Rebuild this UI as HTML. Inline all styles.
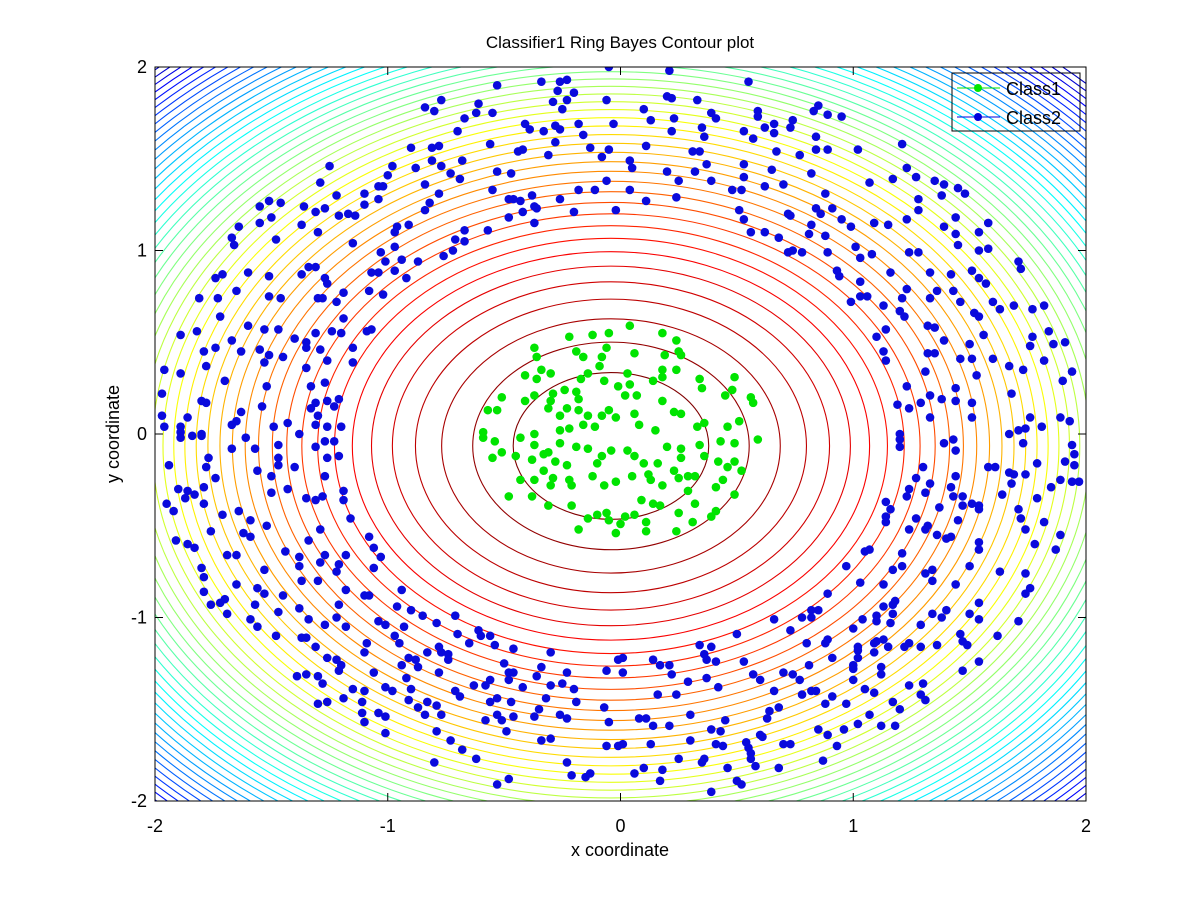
<!DOCTYPE html>
<html><head><meta charset="utf-8"><style>
html,body{margin:0;padding:0;background:#fff;width:1200px;height:900px;overflow:hidden;}
svg{display:block;font-family:"Liberation Sans",Arial,sans-serif;}
</style></head><body>
<svg id="chart" width="1200" height="900" viewBox="0 0 1200 900">
<rect x="0" y="0" width="1200" height="900" fill="#fff"/>
<defs><clipPath id="plotclip"><rect x="155" y="67" width="931" height="734"/></clipPath></defs>
<g id="contours" clip-path="url(#plotclip)"></g>
<g id="c2" clip-path="url(#plotclip)"></g>
<g id="c1" clip-path="url(#plotclip)"></g>
<g id="axes"></g>
<text x="620" y="48" text-anchor="middle" font-size="17">Classifier1 Ring Bayes Contour plot</text>
<text x="620" y="856" text-anchor="middle" font-size="18">x coordinate</text>
<text x="0" y="0" transform="translate(119,434) rotate(-90)" text-anchor="middle" font-size="18">y coordinate</text>
<g>
<rect x="952" y="73" width="128" height="58" fill="none" stroke="#000" stroke-width="1"/>
<g>
<line x1="957" y1="88" x2="1000" y2="88" stroke="#00e600" stroke-width="1"/>
<circle cx="978" cy="88" r="4" fill="#00e600"/>
<text x="1006" y="95" font-size="18">Class1</text></g>
<g>
<line x1="957" y1="117" x2="1000" y2="117" stroke="#0000dd" stroke-width="1"/>
<circle cx="978" cy="117" r="4" fill="#0000dd"/>
<text x="1006" y="124" font-size="18">Class2</text></g>
</g>
</svg>
<script>
const xTicks=[-2,-1,0,1,2];
const yTicks=[-2,-1,0,1,2];
const contourCenter=[-0.041,-0.065];
const contourRadius=[0.42,0.40];
const contourExponent=0.5;
const contourCount=48;
const contourColorSpan=50;
const class1Pts=[[-0.37,0.47],[-0.36,0.42],[-0.22,0.53],[-0.12,0.54],[-0.05,0.55],[-0.06,0.47],[-0.19,0.45],[-0.16,0.42],[-0.08,0.42],[-0.09,0.37],[-0.34,0.35],[-0.30,0.33],[-0.41,0.32],[-0.36,0.30],[-0.14,0.33],[-0.17,0.30],[-0.07,0.29],[-0.01,0.26],[-0.24,0.24],[-0.29,0.22],[-0.19,0.23],[-0.18,0.19],[-0.41,0.18],[-0.37,0.21],[-0.51,0.20],[-0.30,0.18],[-0.23,0.14],[-0.31,0.14],[-0.57,0.13],[-0.53,0.13],[-0.18,0.13],[-0.14,0.10],[-0.08,0.10],[-0.05,0.13],[-0.26,0.10],[-0.02,0.09],[-0.16,0.05],[-0.11,0.04],[-0.22,0.03],[-0.26,0.02],[-0.59,0.01],[-0.37,0.00],
[0.04,0.59],[0.18,0.55],[0.24,0.51],[0.06,0.44],[0.19,0.43],[0.25,0.45],[0.26,0.43],[0.24,0.35],[0.18,0.35],[0.18,0.31],[0.03,0.33],[0.14,0.29],[0.34,0.30],[0.49,0.31],[0.04,0.27],[0.35,0.25],[0.48,0.24],[0.02,0.21],[0.07,0.21],[0.18,0.18],[0.45,0.21],[0.56,0.20],[0.57,0.17],[0.06,0.11],[0.23,0.12],[0.26,0.11],[0.36,0.06],[0.51,0.07],[0.08,0.05],[0.15,0.02],[0.46,0.04],[0.33,0.04],
[-0.59,-0.02],[-0.54,-0.04],[-0.55,-0.13],[-0.51,-0.10],[-0.43,-0.02],[-0.45,-0.12],[-0.37,-0.06],[-0.33,-0.11],[-0.31,-0.10],[-0.26,-0.05],[-0.19,-0.07],[-0.14,-0.08],[-0.08,-0.12],[-0.04,-0.09],[-0.38,-0.14],[-0.28,-0.15],[-0.23,-0.17],[-0.10,-0.16],[-0.33,-0.20],[-0.37,-0.25],[-0.43,-0.25],[-0.29,-0.24],[-0.30,-0.28],[-0.22,-0.25],[-0.21,-0.28],[-0.12,-0.23],[-0.07,-0.28],[-0.02,-0.26],[-0.48,-0.34],[-0.38,-0.34],[-0.31,-0.39],[-0.21,-0.39],[-0.14,-0.46],[-0.10,-0.44],[-0.06,-0.43],[-0.05,-0.47],[-0.18,-0.52],[-0.02,-0.54],
[0.03,-0.09],[0.06,-0.12],[0.10,-0.16],[0.16,-0.16],[0.05,-0.23],[0.12,-0.22],[0.13,-0.25],[0.18,-0.28],[0.23,-0.20],[0.25,-0.24],[0.29,-0.23],[0.32,-0.23],[0.20,-0.07],[0.26,-0.13],[0.26,-0.08],[0.34,-0.06],[0.36,-0.12],[0.42,-0.15],[0.46,-0.18],[0.49,-0.15],[0.43,-0.04],[0.49,-0.05],[0.59,-0.03],[0.52,-0.20],[0.44,-0.25],[0.41,-0.29],[0.29,-0.31],[0.49,-0.33],[0.09,-0.36],[0.14,-0.38],[0.17,-0.39],[0.32,-0.38],[0.41,-0.42],[0.39,-0.45],[0.02,-0.45],[0.06,-0.44],[0.11,-0.48],[0.25,-0.43],[0.31,-0.48],[0.11,-0.53],[0.24,-0.53],[0.00,-0.49]];
const class2Pts=[[-0.05,2.0],[-0.53,1.90],[-0.34,1.92],[-0.26,1.92],[-0.23,1.93],[-0.27,1.87],[-0.20,1.86],[-0.29,1.81],[-0.23,1.82],[-0.25,1.77],[-0.06,1.82],[-0.84,1.78],[-0.80,1.76],[-0.77,1.82],[-0.61,1.80],[-0.62,1.75],[-0.55,1.75],[-0.67,1.72],[-0.41,1.69],[-0.39,1.66],[-0.33,1.65],[-0.28,1.68],[-0.26,1.66],[-0.18,1.69],[-0.16,1.63],[-0.03,1.69],[-0.70,1.65],[-0.56,1.58],[-0.28,1.59],[-0.13,1.56],[-0.05,1.55],[-0.90,1.56],[-0.81,1.56],[-0.78,1.57],[-0.44,1.54],[-0.42,1.55],[-0.31,1.52],[-0.08,1.51],[-1.25,1.46],[-0.98,1.46],[-0.88,1.45],[-0.81,1.49],[-0.77,1.46],[-0.68,1.49],[-0.73,1.42],[-0.69,1.39],[-0.53,1.43],[-0.47,1.42],[-1.29,1.37],[-1.00,1.41],[-1.04,1.35],[-1.02,1.35],[-0.84,1.36],[-0.78,1.31],[-0.55,1.33],[-0.18,1.33],[-0.11,1.33],[-0.06,1.38],[-1.22,1.30],[-1.10,1.31],[-1.10,1.25],[-1.04,1.28],[-0.48,1.28],[-0.46,1.28],[-0.43,1.27],[-0.38,1.30],[-0.26,1.28],[-1.55,1.24],[-1.51,1.27],[-1.46,1.26],[-1.36,1.24],[-1.31,1.21],[-1.27,1.23],[-1.21,1.19],[-1.17,1.20],[-1.14,1.19],[-0.82,1.26],[-0.84,1.22],[-0.48,1.18],[-0.42,1.21],[-0.37,1.24],[-0.36,1.23],[-0.37,1.15],[-0.20,1.21],[-0.02,1.22],[-1.64,1.13],[-1.55,1.15],[-1.50,1.18],[-1.37,1.14],[-1.30,1.10],[-1.67,1.07],[-1.66,1.03],[-1.48,1.06],[-1.15,1.04],[-0.97,1.10],[-0.96,1.13],[-0.91,1.14],[-0.67,1.11],[-0.67,1.05],[-0.71,1.06],[-0.57,1.11],[-1.03,0.99],[-0.97,1.02],[-0.72,1.00],[-0.76,0.97],[-0.94,0.95],[-1.01,0.94],[-0.87,0.94],[-0.97,0.89],[-0.92,0.85],[-1.07,0.88],[-1.04,0.88],[-1.71,0.87],[-1.74,0.85],[-1.60,0.88],[-1.51,0.86],[-1.37,0.87],[-1.34,0.91],[-1.31,0.91],[-1.27,0.85],[-1.26,0.82],[-1.81,0.74],[-1.73,0.74],[-1.65,0.78],[-1.51,0.75],[-1.46,0.74],[-1.30,0.74],[-1.28,0.74],[-1.22,0.72],[-1.19,0.77],[-1.08,0.78],[-1.02,0.76],[-1.72,0.64],[-1.19,0.63],[-1.89,0.54],[-1.82,0.56],[-1.60,0.59],[-1.53,0.57],[-1.47,0.57],[-1.40,0.52],[-1.35,0.50],[-1.31,0.55],[-1.24,0.56],[-1.20,0.55],[-1.09,0.56],[-1.07,0.57],[-1.79,0.45],[-1.74,0.47],[-1.67,0.51],[-1.63,0.45],[-1.55,0.46],[-1.51,0.43],[-1.45,0.42],[-1.35,0.47],[-1.29,0.46],[-1.15,0.47],[-1.53,0.39],[-1.26,0.40],[-1.15,0.39],[-1.96,0.35],[-1.89,0.33],[-1.78,0.37],[-1.35,0.36],[-1.70,0.29],[-1.33,0.26],[-1.27,0.28],[-1.52,0.26],[-1.97,0.22],[-1.80,0.18],[-1.78,0.17],[-1.31,0.17],[-1.26,0.18],[-1.21,0.19],[-1.54,0.15],[-1.23,0.15],[-1.33,0.14],[-1.63,0.12],[-1.97,0.10],[-1.86,0.09],[-1.30,0.10],[-1.65,0.07],[-1.67,0.05],[-1.89,0.04],[-1.96,0.04],[-1.49,0.04],[-1.43,0.06],[-1.31,0.05],[-1.26,0.04],[-1.20,0.04],[-1.89,0.01],[-1.80,0.00],[-1.38,0.00],
[0.21,1.98],[0.55,1.92],[0.20,1.84],[0.22,1.83],[0.33,1.82],[0.10,1.77],[0.13,1.71],[0.23,1.72],[0.22,1.65],[0.35,1.67],[0.36,1.62],[0.39,1.75],[0.41,1.72],[0.59,1.76],[0.59,1.73],[0.62,1.67],[0.66,1.69],[0.66,1.64],[0.53,1.65],[0.57,1.61],[0.74,1.71],[0.73,1.67],[0.83,1.76],[0.85,1.79],[0.89,1.74],[0.95,1.73],[0.84,1.62],[0.84,1.55],[0.89,1.55],[1.02,1.55],[1.21,1.58],[0.11,1.57],[0.31,1.54],[0.34,1.54],[0.67,1.54],[0.77,1.52],[0.04,1.49],[0.05,1.45],[0.20,1.43],[0.25,1.38],[0.32,1.43],[0.37,1.47],[0.39,1.38],[0.53,1.47],[0.53,1.40],[0.65,1.44],[0.82,1.42],[0.04,1.33],[0.11,1.27],[0.24,1.29],[0.48,1.33],[0.52,1.33],[0.62,1.35],[0.70,1.36],[0.88,1.31],[1.07,1.37],[1.17,1.39],[1.23,1.45],[1.27,1.40],[1.35,1.38],[1.39,1.36],[1.38,1.30],[1.45,1.34],[1.48,1.31],[1.28,1.28],[1.28,1.22],[0.51,1.22],[0.53,1.17],[0.72,1.20],[0.73,1.19],[0.84,1.23],[0.86,1.20],[0.91,1.23],[0.95,1.17],[0.99,1.13],[0.82,1.14],[0.81,1.09],[0.88,1.08],[1.09,1.15],[1.15,1.14],[1.23,1.17],[1.39,1.13],[1.44,1.18],[1.44,1.09],[1.54,1.10],[1.58,1.15],[1.45,1.03],[1.54,1.00],[1.58,1.01],[0.56,1.10],[0.62,1.10],[0.68,1.07],[0.72,0.99],[0.74,1.00],[0.78,0.99],[0.89,0.99],[1.01,1.02],[1.03,0.96],[1.08,0.98],[1.24,0.99],[1.28,0.99],[1.71,0.94],[1.72,0.90],[0.93,0.89],[0.94,0.86],[1.16,0.88],[1.33,0.88],[1.42,0.87],[1.51,0.89],[1.54,0.85],[1.57,0.82],[1.03,0.83],[1.23,0.79],[1.36,0.78],[1.43,0.78],[0.99,0.72],[1.03,0.75],[1.06,0.75],[1.21,0.74],[1.33,0.74],[1.46,0.72],[1.60,0.72],[1.63,0.68],[1.69,0.70],[1.77,0.68],[1.82,0.70],[1.13,0.70],[1.20,0.67],[1.22,0.64],[1.52,0.66],[1.54,0.64],[1.14,0.57],[1.10,0.53],[1.32,0.59],[1.35,0.58],[1.39,0.51],[1.50,0.49],[1.56,0.54],[1.77,0.53],[1.84,0.56],[1.86,0.49],[1.91,0.50],[1.76,0.48],[1.13,0.45],[1.14,0.40],[1.32,0.44],[1.35,0.44],[1.46,0.41],[1.51,0.41],[1.60,0.41],[1.67,0.37],[1.73,0.35],[1.82,0.40],[1.31,0.34],[1.53,0.32],[1.90,0.29],[1.94,0.34],[1.23,0.26],[1.44,0.25],[1.68,0.22],[1.19,0.16],[1.24,0.14],[1.29,0.17],[1.33,0.21],[1.38,0.19],[1.44,0.18],[1.51,0.17],[1.33,0.09],[1.51,0.09],[1.76,0.09],[1.89,0.09],[1.93,0.07],[1.81,0.04],[1.71,0.02],[1.67,0.00],[1.74,0.03],[1.20,0.00],
[-1.89,-0.02],[-1.84,-0.01],[-1.80,-0.01],[-1.61,-0.02],[-1.67,-0.08],[-1.57,-0.08],[-1.47,-0.06],[-1.47,-0.13],[-1.47,-0.17],[-1.94,-0.17],[-1.77,-0.13],[-1.78,-0.18],[-1.74,-0.24],[-1.31,-0.07],[-1.27,-0.04],[-1.23,-0.04],[-1.26,-0.13],[-1.21,-0.12],[-1.40,-0.18],[-1.56,-0.20],[-1.50,-0.23],[-1.27,-0.23],[-1.90,-0.30],[-1.86,-0.31],[-1.87,-0.35],[-1.83,-0.33],[-1.79,-0.29],[-1.79,-0.38],[-1.95,-0.38],[-1.92,-0.42],[-1.50,-0.32],[-1.43,-0.30],[-1.35,-0.35],[-1.31,-0.36],[-1.28,-0.34],[-1.19,-0.31],[-1.19,-0.36],[-1.71,-0.44],[-1.64,-0.42],[-1.59,-0.47],[-1.52,-0.50],[-1.16,-0.46],[-1.76,-0.53],[-1.62,-0.54],[-1.59,-0.56],[-1.29,-0.52],[-1.91,-0.58],[-1.86,-0.60],[-1.83,-0.62],[-1.34,-0.58],[-1.08,-0.56],[-1.06,-0.62],[-1.03,-0.67],[-1.44,-0.64],[-1.38,-0.67],[-1.27,-0.66],[-1.18,-0.66],[-1.69,-0.66],[-1.65,-0.66],[-1.80,-0.73],[-1.79,-0.78],[-1.29,-0.70],[-1.21,-0.71],[-1.38,-0.72],[-1.22,-0.75],[-1.53,-0.74],[-1.37,-0.80],[-1.30,-0.80],[-1.06,-0.73],[-1.65,-0.82],[-1.56,-0.84],[-1.53,-0.87],[-1.79,-0.86],[-1.18,-0.85],[-0.94,-0.85],[-1.10,-0.88],[-1.08,-0.88],[-1.45,-0.88],[-1.76,-0.93],[-1.72,-0.92],[-1.70,-0.90],[-1.69,-0.98],[-1.57,-0.93],[-1.47,-0.97],[-1.38,-0.95],[-1.21,-0.93],[-0.96,-0.94],[-0.90,-0.96],[-0.85,-0.99],[-0.71,-0.99],[-1.59,-1.01],[-1.56,-1.05],[-1.34,-1.01],[-1.27,-1.04],[-1.22,-1.00],[-1.18,-1.05],[-1.04,-1.02],[-1.01,-1.04],[-0.93,-1.05],[-0.79,-1.03],[-0.61,-1.07],[-0.60,-1.10],[-0.56,-1.10],[-0.70,-1.09],[-1.48,-1.10],[-1.37,-1.11],[-1.35,-1.11],[-1.31,-1.16],[-1.09,-1.14],[-0.97,-1.10],[-0.95,-1.14],[-0.65,-1.14],[-0.54,-1.15],[-0.46,-1.17],[-0.30,-1.19],[-1.10,-1.19],[-0.83,-1.19],[-0.78,-1.16],[-0.77,-1.19],[-0.74,-1.20],[-1.26,-1.22],[-1.22,-1.23],[-1.20,-1.26],[-0.91,-1.22],[-0.88,-1.23],[-0.94,-1.26],[-0.87,-1.27],[-0.74,-1.23],[-0.50,-1.25],[-0.34,-1.27],[-1.21,-1.29],[-1.06,-1.30],[-0.78,-1.30],[-0.48,-1.30],[-0.46,-1.30],[-0.36,-1.32],[-0.23,-1.30],[-0.06,-1.29],[-0.01,-1.23],[-1.39,-1.32],[-1.35,-1.31],[-1.30,-1.32],[-1.28,-1.36],[-0.92,-1.33],[-0.90,-1.39],[-1.01,-1.38],[-0.98,-1.40],[-0.63,-1.37],[-0.58,-1.37],[-0.56,-1.34],[-0.48,-1.34],[-0.42,-1.38],[-0.30,-1.37],[-0.25,-1.36],[-0.20,-1.39],[-1.15,-1.39],[-1.10,-1.40],[-1.19,-1.44],[-1.11,-1.46],[-1.30,-1.47],[-1.26,-1.46],[-0.91,-1.45],[-0.87,-1.49],[-0.83,-1.46],[-0.79,-1.48],[-0.71,-1.40],[-0.69,-1.43],[-0.56,-1.46],[-0.53,-1.44],[-0.47,-1.46],[-0.32,-1.44],[-0.19,-1.46],[-0.07,-1.49],[-1.11,-1.52],[-1.04,-1.52],[-1.01,-1.54],[-1.10,-1.57],[-0.84,-1.53],[-0.77,-1.53],[-0.58,-1.56],[-0.53,-1.53],[-0.51,-1.56],[-0.46,-1.54],[-0.37,-1.54],[-0.35,-1.50],[-0.26,-1.53],[-0.23,-1.55],[-0.05,-1.57],[-1.01,-1.63],[-0.79,-1.62],[-0.73,-1.67],[-0.49,-1.62],[-0.34,-1.67],[-0.30,-1.66],[-0.06,-1.70],[-0.01,-1.70],[-0.68,-1.72],[-0.62,-1.77],[-0.80,-1.79],[-0.23,-1.79],[-0.21,-1.86],[-0.15,-1.87],[-0.13,-1.85],[-0.53,-1.91],[-0.48,-1.88],
[1.20,-0.03],[1.20,-0.07],[1.39,-0.05],[1.43,-0.03],[1.44,-0.09],[1.73,-0.05],[1.94,-0.06],[1.95,-0.11],[1.91,-0.15],[1.95,-0.17],[1.79,-0.16],[1.30,-0.18],[1.58,-0.18],[1.61,-0.18],[1.67,-0.21],[1.69,-0.22],[1.74,-0.22],[1.68,-0.27],[1.44,-0.23],[1.27,-0.24],[1.33,-0.27],[1.31,-0.32],[1.24,-0.30],[1.23,-0.34],[1.42,-0.29],[1.43,-0.34],[1.47,-0.34],[1.64,-0.33],[1.79,-0.35],[1.85,-0.29],[1.89,-0.25],[1.94,-0.26],[1.97,-0.26],[1.14,-0.37],[1.16,-0.41],[1.14,-0.45],[1.14,-0.48],[1.27,-0.46],[1.32,-0.50],[1.31,-0.52],[1.24,-0.52],[1.37,-0.40],[1.45,-0.47],[1.47,-0.39],[1.51,-0.38],[1.54,-0.41],[1.54,-0.39],[1.71,-0.41],[1.72,-0.46],[1.74,-0.52],[1.82,-0.48],[1.89,-0.55],[1.87,-0.63],[1.78,-0.60],[1.36,-0.55],[1.40,-0.57],[1.42,-0.56],[1.54,-0.59],[1.54,-0.63],[1.05,-0.64],[1.07,-0.63],[1.21,-0.65],[0.97,-0.72],[1.17,-0.74],[1.21,-0.72],[1.31,-0.76],[1.34,-0.74],[1.34,-0.80],[1.50,-0.72],[1.63,-0.75],[1.74,-0.76],[1.03,-0.81],[1.13,-0.82],[1.44,-0.82],[1.76,-0.84],[1.74,-0.87],[0.89,-0.87],[1.18,-0.91],[1.13,-0.94],[1.17,-0.93],[1.54,-0.92],[0.66,-1.01],[0.78,-1.00],[0.82,-0.96],[0.82,-1.00],[0.85,-0.96],[1.04,-1.01],[1.10,-0.99],[1.10,-1.02],[1.17,-0.98],[1.16,-1.03],[1.34,-0.98],[1.38,-1.00],[1.40,-0.96],[1.29,-1.04],[1.50,-0.98],[1.54,-1.01],[1.71,-1.02],[0.73,-1.07],[1.00,-1.06],[0.50,-1.09],[0.80,-1.14],[0.88,-1.14],[0.89,-1.12],[1.02,-1.16],[1.09,-1.14],[1.10,-1.13],[1.13,-1.12],[1.15,-1.16],[1.22,-1.16],[1.24,-1.14],[1.29,-1.16],[1.36,-1.15],[1.46,-1.09],[1.47,-1.13],[1.49,-1.15],[1.62,-1.10],[0.34,-1.15],[0.39,-1.16],[0.01,-1.22],[0.14,-1.23],[0.17,-1.26],[0.21,-1.26],[0.36,-1.20],[0.37,-1.23],[0.41,-1.24],[0.53,-1.24],[0.81,-1.26],[0.91,-1.22],[1.02,-1.18],[1.02,-1.22],[1.09,-1.19],[1.00,-1.26],[1.12,-1.27],[1.12,-1.31],[1.54,-1.24],[1.47,-1.29],[0.01,-1.30],[0.22,-1.31],[0.37,-1.33],[0.29,-1.35],[0.57,-1.31],[0.60,-1.34],[0.70,-1.30],[0.74,-1.31],[0.77,-1.34],[1.00,-1.34],[1.00,-1.28],[0.16,-1.42],[0.24,-1.42],[0.42,-1.38],[0.66,-1.40],[0.78,-1.42],[0.82,-1.40],[0.84,-1.40],[1.05,-1.39],[1.09,-1.41],[1.24,-1.37],[1.29,-1.42],[1.30,-1.36],[1.31,-1.45],[0.91,-1.43],[0.88,-1.47],[0.97,-1.47],[1.17,-1.46],[1.20,-1.50],[0.30,-1.53],[0.64,-1.51],[0.68,-1.49],[0.08,-1.55],[0.11,-1.55],[0.14,-1.59],[0.21,-1.59],[0.39,-1.61],[0.43,-1.62],[0.45,-1.56],[0.63,-1.55],[1.02,-1.58],[1.07,-1.53],[1.12,-1.59],[1.18,-1.59],[0.85,-1.61],[0.96,-1.61],[0.01,-1.69],[0.13,-1.69],[0.30,-1.67],[0.41,-1.69],[0.44,-1.70],[0.54,-1.68],[0.55,-1.71],[0.60,-1.64],[0.61,-1.65],[0.70,-1.69],[0.73,-1.69],[0.89,-1.64],[0.93,-1.70],[0.56,-1.74],[0.56,-1.77],[0.25,-1.77],[0.35,-1.79],[0.36,-1.77],[0.46,-1.82],[0.58,-1.81],[0.68,-1.82],[0.87,-1.78],[0.06,-1.85],[0.10,-1.82],[0.18,-1.83],[0.17,-1.89],[0.50,-1.89],[0.52,-1.91],[0.39,-1.95]];

const NS='http://www.w3.org/2000/svg';
const X0=155,X1=1086,Y0=801,Y1=67;
function sx(v){return X0+(v+2)/4*(X1-X0);}
function sy(v){return Y0-(v+2)/4*(Y0-Y1);}
function jet(v){
  const c=t=>Math.round(255*Math.max(0,Math.min(1,t)));
  return 'rgb('+c(1.5-Math.abs(4*v-3))+','+c(1.5-Math.abs(4*v-2))+','+c(1.5-Math.abs(4*v-1))+')';
}
const gC=document.getElementById('contours');
for(let k=contourCount;k>=1;k--){
  const e=document.createElementNS(NS,'ellipse');
  const cx=sx(contourCenter[0]),cy=sy(contourCenter[1]);
  const f=Math.pow(k,contourExponent);
  e.setAttribute('cx',cx);e.setAttribute('cy',cy);
  e.setAttribute('rx',sx(contourCenter[0]+contourRadius[0]*f)-cx);
  e.setAttribute('ry',cy-sy(contourCenter[1]+contourRadius[1]*f));
  e.setAttribute('fill','none');
  e.setAttribute('stroke',jet(1-(k-1)/contourColorSpan));
  e.setAttribute('stroke-width','1.1');
  
  
  gC.appendChild(e);
}
function drawPts(id,pts,col,nm){
  const g=document.getElementById(id);
  pts.forEach(p=>{
    const c=document.createElementNS(NS,'circle');
    c.setAttribute('cx',sx(p[0]));c.setAttribute('cy',sy(p[1]));
    c.setAttribute('r','4.3');c.setAttribute('fill',col);
    
    
    g.appendChild(c);
  });
}
drawPts('c2',class2Pts,'#0a0adc','class2-point');
drawPts('c1',class1Pts,'#00e400','class1-point');
const gA=document.getElementById('axes');
const box=document.createElementNS(NS,'rect');
box.setAttribute('x',X0);box.setAttribute('y',Y1);box.setAttribute('width',X1-X0);box.setAttribute('height',Y0-Y1);
box.setAttribute('fill','none');box.setAttribute('stroke','#000');box.setAttribute('stroke-width','1');


gA.appendChild(box);
function ln(x1,y1,x2,y2){const l=document.createElementNS(NS,'line');l.setAttribute('x1',x1);l.setAttribute('y1',y1);l.setAttribute('x2',x2);l.setAttribute('y2',y2);l.setAttribute('stroke','#000');


gA.appendChild(l);}
xTicks.forEach(t=>{
  const x=sx(t);ln(x,Y0,x,Y0-8);ln(x,Y1,x,Y1+8);
  const tx=document.createElementNS(NS,'text');
  tx.setAttribute('x',x);tx.setAttribute('y',Y0+31);tx.setAttribute('text-anchor','middle');tx.setAttribute('font-size','18');
  tx.textContent=t;
  
  
  gA.appendChild(tx);
});
yTicks.forEach(t=>{
  const y=sy(t);ln(X0,y,X0+8,y);ln(X1,y,X1-8,y);
  const tx=document.createElementNS(NS,'text');
  tx.setAttribute('x',X0-8);tx.setAttribute('y',y+6);tx.setAttribute('text-anchor','end');tx.setAttribute('font-size','18');
  tx.textContent=t;
  
  
  gA.appendChild(tx);
});
</script>
</body></html>
